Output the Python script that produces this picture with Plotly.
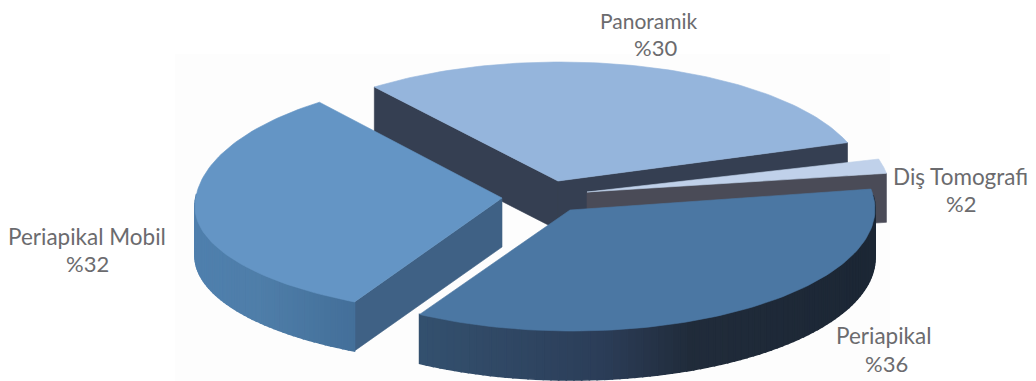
import numpy as np
import plotly.graph_objects as go

# ---- data ----
categories = ["Panoramik", "Diş Tomografi", "Periapikal", "Periapikal Mobil"]
values = [30, 2, 36, 32]

# ---- drawing style (pixel space of a 1036x381 page) ----
W, H = 1036, 381
DEPTH = 49
start_angle = {"Panoramik": 232.5, "Diş Tomografi": 344.0, "Periapikal": 350.6, "Periapikal Mobil": 118.5}
apex = {"Panoramik": (558, 181), "Diş Tomografi": (587, 192), "Periapikal": (570, 210), "Periapikal Mobil": (502, 198)}
arc_center = {"Panoramik": (560, 183), "Diş Tomografi": (587, 192), "Periapikal": (572, 209), "Periapikal Mobil": (500, 207)}
radius_x = {"Panoramik": 305, "Diş Tomografi": 303, "Periapikal": 303, "Periapikal Mobil": 305}
radius_y_up = {"Panoramik": 121, "Diş Tomografi": 122, "Periapikal": 122, "Periapikal Mobil": 130}
radius_y_down = {"Panoramik": 121, "Diş Tomografi": 122, "Periapikal": 122, "Periapikal Mobil": 108}
top_color = {"Panoramik": "#95b5dc", "Diş Tomografi": "#c0d1ea", "Periapikal": "#4b77a3", "Periapikal Mobil": "#6495c5"}
wall_color = {"Panoramik": "#353f52", "Diş Tomografi": "#4a4b57", "Periapikal": "#1c2735", "Periapikal Mobil": "#3f6185"}
ramp = {
    "Periapikal": [(420, "#34516f"), (600, "#2c3e59"), (690, "#212c3b"), (880, "#1c2735")],
    "Periapikal Mobil": [(195, "#5080ae"), (260, "#4f7ea9"), (352, "#44709a")],
}
name_pos = {"Panoramik": (649, 20), "Diş Tomografi": (960, 176), "Periapikal": (884, 335), "Periapikal Mobil": (87, 236)}
value_pos = {"Panoramik": (655, 47), "Diş Tomografi": (961, 203), "Periapikal": (886, 363), "Periapikal Mobil": (87, 263)}
name_size = {"Panoramik": 21, "Diş Tomografi": 22.5, "Periapikal": 22.5, "Periapikal Mobil": 22.5}
VALUE_SIZE = 22
TEXT_COLOR = "#6b6b6e"
spans = {c: v * 3.6 for c, v in zip(categories, values)}

fig = go.Figure()


def poly(xs, ys, color, width=0.6):
    fig.add_trace(go.Scatter(x=xs, y=ys, mode="lines", fill="toself", fillcolor=color,
                             line=dict(color=color, width=width), hoverinfo="skip", showlegend=False))


def hex_rgb(h):
    return np.array([int(h[i:i + 2], 16) for i in (1, 3, 5)], float)


def ramp_color(stops, x):
    xs = [s[0] for s in stops]
    cols = np.array([hex_rgb(s[1]) for s in stops])
    c = [np.interp(x, xs, cols[:, k]) for k in range(3)]
    return "rgb(%d,%d,%d)" % tuple(c)


def arc(cat, n=90):
    t0 = start_angle[cat]
    t = np.radians(np.linspace(t0, t0 + spans[cat], n))
    cx, cy = arc_center[cat]
    s = np.sin(t)
    return t, cx + radius_x[cat] * np.cos(t), cy + np.where(s < 0, radius_y_up[cat], radius_y_down[cat]) * s


def wall_ends(cat):
    _, xs, ys = arc(cat)
    c = wall_color[cat]
    if cat == "Panoramik":
        return [(xs[0], ys[0]), (xs[-1], ys[-1])], c
    if cat == "Periapikal Mobil":
        return [(xs[0], ys[0])], c
    if cat == "Diş Tomografi":
        return [(xs[-1], ys[-1])], c
    return [], c


def slice3d(cat):
    ax, ay = apex[cat]
    t, xs, ys = arc(cat)
    ends, col = wall_ends(cat)
    for ex, ey in ends:
        poly([ax, ex, ex, ax, ax], [ay, ey, ey + DEPTH, ay + DEPTH, ay], col)
    if cat in ramp:
        idx = np.where(np.sin(t) > -0.12)[0]
        for i, j in zip(idx[:-1], idx[1:]):
            poly([xs[i], xs[j], xs[j], xs[i], xs[i]],
                 [ys[i], ys[j], ys[j] + DEPTH, ys[i] + DEPTH, ys[i]],
                 ramp_color(ramp[cat], (xs[i] + xs[j]) / 2), width=1.6)
    poly(np.r_[ax, xs, ax], np.r_[ay, ys, ay], top_color[cat])


# faint off-white backdrop behind the pie
fig.add_shape(type="rect", x0=175, x1=890, y0=54, y1=381, fillcolor="#fdfdfd", line_width=0, layer="below")

for cat in ["Panoramik", "Diş Tomografi", "Periapikal Mobil", "Periapikal"]:
    slice3d(cat)

for cat, val in zip(categories, values):
    fig.add_annotation(x=name_pos[cat][0], y=name_pos[cat][1], text=cat, showarrow=False,
                       font=dict(family="Lato", size=name_size[cat], color=TEXT_COLOR))
    fig.add_annotation(x=value_pos[cat][0], y=value_pos[cat][1], text=f"%{val}", showarrow=False,
                       font=dict(family="Lato", size=VALUE_SIZE, color=TEXT_COLOR))

fig.update_layout(width=W, height=H, margin=dict(l=0, r=0, t=0, b=0), paper_bgcolor="white", plot_bgcolor="white",
                  showlegend=False,
                  xaxis=dict(range=[0, W], visible=False, fixedrange=True),
                  yaxis=dict(range=[H, 0], visible=False, fixedrange=True))
fig.write_html("out.html", config={"displayModeBar": False},
               post_script="document.body.style.margin='0';document.body.style.overflow='hidden';")
